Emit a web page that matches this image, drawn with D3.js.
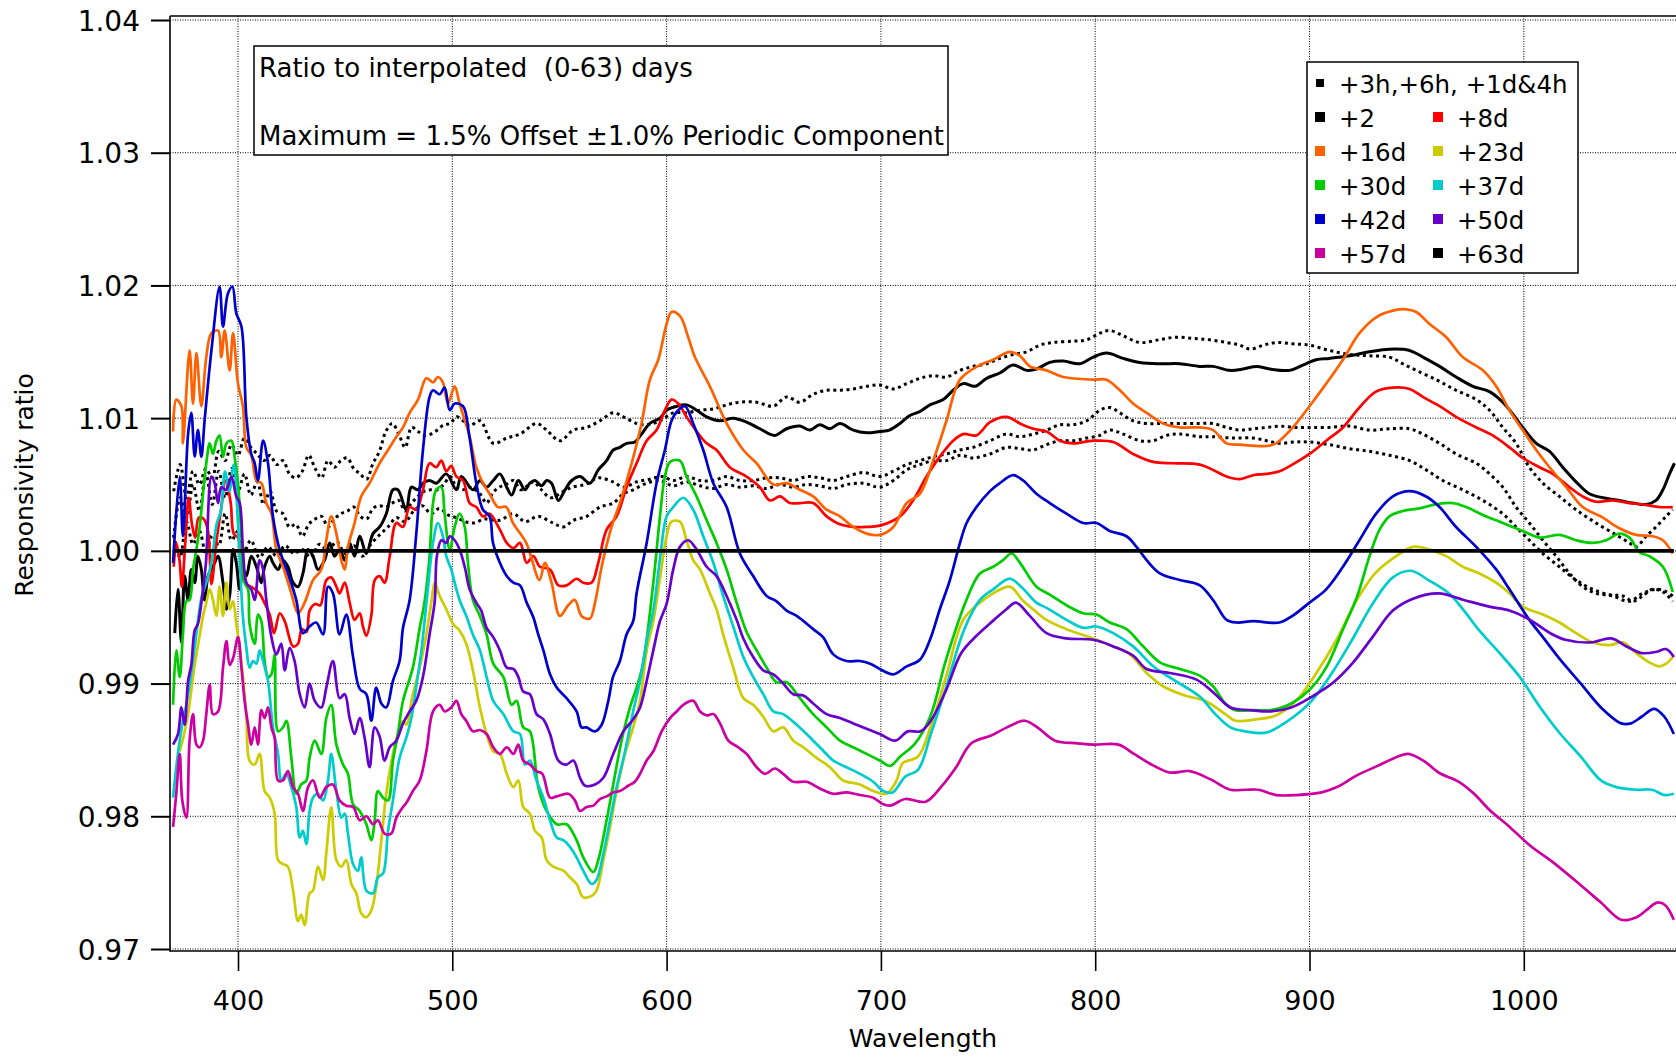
<!DOCTYPE html>
<html><head><meta charset="utf-8">
<script src="https://cdn.jsdelivr.net/npm/d3@7"></script>
<style>
html,body{margin:0;padding:0;background:#fff;}
svg text{font-family:"DejaVu Sans",sans-serif;fill:#000;}
</style></head>
<body>
<svg id="chart" width="1676" height="1058"></svg>
<script>
// ---- tick labels ----
const wavelengthTicks = [400, 500, 600, 700, 800, 900, 1000];
const ratioTicks = [0.97, 0.98, 0.99, 1.00, 1.01, 1.02, 1.03, 1.04];

// ---- series: [wavelength, ratio] ----
const d3h = [[370,1.0045],[373,1.0065],[376,1.004],[379,1.006],[382,1.005],[385,1.0062],[388,1.0055],[391,1.0075],[394,1.0068],[397,1.008],[400,1.0072],[403,1.0085],[406,1.0078],[409,1.0073],[412,1.0068],[415,1.0072],[418,1.0065],[421,1.0068],[424,1.0058],[427,1.0055],[430,1.006],[433,1.0072],[436,1.0062],[439,1.0055],[442,1.0068],[445,1.0063],[448,1.0068],[451,1.007],[454,1.0062],[457,1.0058],[460,1.0054],[463,1.0066],[466,1.0075],[469,1.009],[472,1.0096],[475,1.0088],[478,1.0078],[481,1.0093],[484,1.009],[487,1.0087],[490,1.0088],[493,1.0091],[496,1.0095],[499,1.0096],[502,1.0101],[505,1.0098],[508,1.0094],[512.9,1.0098],[519.1,1.0081],[525.4,1.0085],[531.6,1.0088],[539.3,1.0096],[544,1.0091],[550.2,1.0083],[556.5,1.0091],[562.7,1.0093],[568.9,1.0098],[575.1,1.0104],[579.8,1.0101],[586,1.0096],[590.7,1.0095],[596.9,1.0098],[603.1,1.0104],[609.3,1.0104],[615.6,1.0106],[621.8,1.0107],[628,1.011],[634.2,1.0112],[642,1.0112],[649.8,1.0109],[656,1.0116],[662.2,1.0112],[668.4,1.0118],[674.7,1.0121],[680.9,1.0121],[687.1,1.0122],[693.3,1.0124],[699.5,1.0125],[705.8,1.0122],[712,1.0126],[718.2,1.013],[724.4,1.0132],[730.6,1.0131],[736.9,1.0136],[743,1.0139],[749.3,1.0141],[755.5,1.0145],[761.7,1.0148],[768,1.015],[774.2,1.0155],[780.4,1.0157],[789.7,1.0158],[796,1.0159],[802.2,1.0164],[806.8,1.0166],[813.1,1.0162],[820.8,1.0157],[829.6,1.0159],[837.8,1.0161],[845.8,1.016],[853.5,1.0159],[861.3,1.0157],[867.5,1.0155],[872.3,1.0152],[878.5,1.0155],[884.7,1.0157],[892,1.0156],[900,1.0155],[909.3,1.0151],[918.7,1.0148],[928,1.0147],[937.3,1.0146],[943.5,1.0141],[949.8,1.0136],[959.1,1.0129],[968.4,1.0121],[977.8,1.0114],[984,1.0106],[990.2,1.0093],[996.4,1.0081],[1002.6,1.0063],[1008.9,1.0051],[1016.6,1.0041],[1024.4,1.0031],[1033.7,1.0021],[1043.1,1.0012],[1049.3,1.0006],[1052.4,1.0003],[1057.1,1.0011],[1061.7,1.0018],[1066.4,1.0026],[1069.5,1.0031]];

const d6h = [[370,1.001],[373,1.004],[376,1.0025],[379,1.005],[382,1.003],[385,1.0058],[388,1.0035],[391,1.006],[394,1.004],[397,1.0062],[400,1.0045],[403,1.0058],[406,1.0042],[409,1.0052],[412,1.0035],[415,1.0045],[418,1.003],[421,1.0028],[424,1.0018],[427,1.002],[430,1.0011],[433,1.002],[436,1.0024],[439,1.0026],[442,1.0018],[445,1.0024],[448,1.0028],[451,1.003],[454,1.0033],[457,1.0026],[460,1.0024],[463,1.0032],[466,1.0034],[469,1.0033],[472,1.0036],[475,1.0038],[478,1.003],[481,1.0036],[484,1.0041],[487,1.0045],[490,1.0046],[493,1.0046],[496,1.005],[499,1.0056],[502,1.0048],[505,1.0046],[508,1.0048],[512.9,1.0043],[516,1.0036],[519,1.0044],[522,1.0048],[525,1.005],[528.5,1.0053],[532,1.0046],[535,1.0049],[538,1.0052],[541,1.0047],[546,1.004],[551,1.0044],[556,1.0048],[562,1.005],[568,1.0055],[575,1.0052],[580,1.0048],[586,1.0052],[592,1.0054],[598,1.0056],[603.1,1.0053],[609.3,1.0056],[615.6,1.0053],[621.8,1.0053],[628,1.0056],[634.2,1.0053],[640.4,1.0053],[646.7,1.0055],[652.9,1.0055],[659.1,1.0053],[665.3,1.0056],[671.5,1.0055],[677.8,1.0053],[684,1.0056],[691.8,1.0059],[699.5,1.0056],[705.8,1.006],[712,1.0065],[718.2,1.0068],[724.4,1.0071],[730.6,1.0073],[736.9,1.0076],[743,1.0078],[750.9,1.0083],[758.6,1.0088],[764.9,1.0086],[771.1,1.0088],[777.3,1.0091],[783.5,1.0095],[789.7,1.0095],[796,1.0098],[802.2,1.0106],[806.8,1.0108],[811.5,1.0104],[817.7,1.0098],[824,1.0096],[831.7,1.0096],[839.5,1.0096],[848,1.0096],[855,1.0096],[861.3,1.0093],[867.5,1.0091],[873.7,1.0092],[880,1.0093],[886,1.0094],[893,1.0093],[900,1.0093],[909,1.0093],[918.7,1.0094],[928,1.0091],[937.3,1.0092],[946.7,1.0092],[952.9,1.0088],[960.7,1.0081],[968.4,1.0073],[977.8,1.0066],[984,1.0058],[990.2,1.0048],[996.4,1.0033],[1002.6,1.0021],[1008.9,1.0008],[1015.1,0.9996],[1021.3,0.9983],[1027.5,0.9973],[1033.7,0.9968],[1041.5,0.9966],[1049.3,0.9962],[1055.5,0.9968],[1061.7,0.9971],[1065.5,0.997],[1069.5,0.9966]];

const d1d4h = [[370,1.0012],[373,0.9995],[376,1.0022],[379,1.0005],[382,1.0015],[385,0.9998],[388,1.0012],[391,1.0004],[394,1.0028],[397,1.0008],[400,1.0015],[403,1.0],[406,1.0008],[410,0.9995],[414,1.0003],[418,0.9996],[422,1.0004],[426,0.9998],[430,1.0001],[434,0.9995],[438,1.0005],[442,1.0],[446,1.0007],[450,0.9998],[454,1.0004],[458,0.9996],[462,1.0005],[466,1.0012],[470,1.0018],[474,1.0025],[478,1.0022],[482,1.003],[486,1.0034],[490,1.0028],[494,1.0032],[498,1.0027],[502,1.0025],[506,1.0022],[510,1.0021],[515,1.0024],[522,1.0023],[528.5,1.0028],[534,1.0022],[540,1.0026],[547,1.0021],[551.8,1.0018],[556.5,1.0023],[562.7,1.0026],[568.9,1.0033],[575.1,1.0036],[579.8,1.0043],[584.4,1.0046],[590.7,1.0051],[596.9,1.0053],[603.1,1.0049],[609.3,1.0052],[615.6,1.0049],[621.8,1.0047],[628,1.005],[634.2,1.0048],[640.4,1.0049],[646.7,1.0047],[652.9,1.005],[659.1,1.0048],[665.3,1.005],[671.5,1.0049],[677.8,1.0047],[684,1.005],[691.8,1.0051],[699.5,1.0048],[705.8,1.0053],[712,1.0061],[718.2,1.0065],[724.4,1.0068],[730.6,1.0068],[736.9,1.0072],[743,1.007],[750.9,1.0073],[758.6,1.0078],[764.9,1.0077],[771.1,1.0076],[777.3,1.008],[783.5,1.0083],[789.7,1.0083],[796,1.0085],[802.2,1.0087],[806.8,1.0091],[813.1,1.0088],[820.8,1.0083],[827.1,1.0083],[833.3,1.0087],[839.5,1.0088],[848.8,1.0086],[855,1.0086],[864.4,1.0085],[873.7,1.0085],[880,1.0083],[886,1.0081],[893,1.0082],[900,1.0082],[909.3,1.008],[918.7,1.0077],[928,1.0075],[937.3,1.0072],[946.7,1.0068],[954.4,1.0061],[962.2,1.0053],[971.5,1.0046],[980.9,1.0038],[990.2,1.0028],[996.4,1.0018],[1002.6,1.0008],[1008.9,0.9998],[1016.6,0.9988],[1024.4,0.9978],[1032.2,0.9971],[1040,0.9967],[1046.2,0.9966],[1050.9,0.9962],[1055.5,0.9966],[1060,0.9971],[1065,0.9969],[1069.5,0.9962]];

const d2 = [[370.5,0.9938],[372,0.9971],[373.6,0.9931],[375.1,0.9981],[376.7,0.9963],[378.2,0.9986],[379.8,0.9976],[381.3,0.9996],[382.9,0.9986],[384.4,0.9963],[386,0.9981],[387.6,0.9986],[389.1,0.9991],[390.7,0.9996],[393,0.9976],[394.6,0.9956],[396.1,0.9966],[397.7,1.0001],[399.2,0.9991],[400.8,0.9971],[402.3,0.9986],[403.9,0.9981],[406.2,0.9996],[408.6,0.9988],[410.9,0.9976],[412.4,0.9988],[414.8,0.9996],[416.3,0.9991],[418.7,0.9986],[421,0.9993],[423.3,0.9988],[425.7,0.9976],[428,0.9973],[430.3,0.9983],[432.7,1.0001],[435,0.9996],[437.3,0.9986],[440.4,0.9993],[442.8,1.0006],[445.1,0.9996],[447.4,1.0001],[449.8,0.9993],[452.1,1.0006],[454.4,0.9996],[456.8,1.0011],[459.9,0.9998],[463,1.0013],[466.1,1.0018],[469.2,1.0028],[472.3,1.0046],[474.6,1.0046],[478.5,1.0031],[480.9,1.0048],[484,1.0046],[486.3,1.0051],[489.4,1.0053],[492.5,1.0051],[497.2,1.0058],[501.9,1.0046],[504.2,1.0056],[509.6,1.0046],[512.9,1.0053],[516,1.0048],[519.1,1.0053],[522.2,1.0058],[525.4,1.0048],[527.7,1.0042],[530.8,1.0053],[533.9,1.0046],[536.2,1.0051],[538.6,1.0053],[541.7,1.0049],[544,1.0053],[546.3,1.0051],[549.5,1.0038],[552.6,1.0046],[555.7,1.0053],[559.6,1.0056],[564.2,1.0051],[568.1,1.0061],[572,1.0068],[575.1,1.0076],[578.2,1.0078],[581.3,1.0081],[585.2,1.0082],[588.3,1.0088],[592.2,1.0096],[596.9,1.01],[600,1.0106],[604.7,1.0109],[609.3,1.011],[614,1.0106],[618.7,1.0101],[624.9,1.0098],[631.1,1.01],[637.3,1.0097],[643.5,1.0092],[650.5,1.0087],[656,1.0092],[662.2,1.0094],[666.9,1.0091],[671.5,1.0095],[676.2,1.0092],[680.9,1.0096],[687.1,1.0091],[693.3,1.0089],[699.5,1.009],[704,1.0091],[708.9,1.0096],[713.5,1.0102],[718.2,1.0105],[722.9,1.011],[729.1,1.0114],[733.7,1.0121],[738.4,1.0126],[743.9,1.0124],[749.3,1.013],[755.5,1.0134],[761.7,1.014],[768,1.0136],[772.6,1.0137],[778.8,1.0142],[785.1,1.0143],[792.8,1.0141],[799.1,1.0146],[805.3,1.0149],[813.1,1.0145],[820.8,1.0142],[830.2,1.0141],[839.5,1.0141],[848.8,1.0139],[855,1.0139],[862.8,1.0136],[869,1.0137],[875.3,1.0139],[881.5,1.0137],[890.7,1.0136],[896.9,1.014],[903.1,1.0144],[909.3,1.0145],[918.7,1.0147],[928,1.015],[937.3,1.0152],[946.7,1.0151],[952.9,1.0146],[960.7,1.0139],[968.4,1.0131],[976.2,1.0124],[984,1.012],[990.2,1.0112],[994.9,1.0103],[999.5,1.0093],[1005.8,1.0081],[1012,1.0075],[1018.2,1.0063],[1024.4,1.0052],[1030.6,1.0043],[1036.9,1.004],[1044.6,1.0038],[1050.9,1.0036],[1057.1,1.0035],[1061.7,1.0038],[1064.9,1.0046],[1068,1.0058],[1070.3,1.0066]];

const d8 = [[370,0.9988],[371.2,1.0006],[372.7,0.9993],[373.8,0.9973],[375.4,1.0006],[377,1.004],[378.5,1.002],[380,1.001],[381.7,1.0025],[384,1.0024],[386,1.0015],[387.6,0.9975],[390,1.0008],[392,1.003],[394.3,1.0053],[396.6,1.0036],[398,1.0013],[400,1.001],[402,0.9983],[404,0.9975],[407,0.9972],[410,0.9968],[412,0.9962],[414.8,0.9952],[416.8,0.9938],[419.5,0.9953],[421.8,0.9947],[425.7,0.9928],[428,0.993],[429.8,0.9941],[432,0.9939],[433.4,0.9955],[436,0.996],[438.4,0.9959],[441.2,0.9978],[443.5,0.998],[445.9,0.9973],[447.4,0.9968],[449.8,0.9976],[452.1,0.9961],[454.4,0.9948],[456.8,0.9953],[458.3,0.9943],[459.9,0.9936],[462.2,0.9951],[463.8,0.9978],[466.1,0.9981],[468.4,0.9976],[470.8,0.9996],[473.9,1.0021],[477,1.0018],[480.1,1.0033],[483.2,1.0031],[486.3,1.0046],[489.4,1.0066],[492.5,1.0063],[494.9,1.0068],[497.2,1.006],[499.5,1.0064],[501.9,1.0056],[505,1.0053],[508.1,1.0036],[511.2,1.0033],[514.3,1.0026],[517.4,1.0028],[522.2,1.0016],[525.4,1.0006],[528.5,1.0002],[531.6,1.0006],[534.7,0.9991],[537.8,0.9996],[540.9,0.9988],[545.6,0.9986],[549.5,0.9974],[553.4,0.9974],[558,0.9979],[561.1,0.9976],[565,0.9976],[568.1,0.9991],[572,1.0016],[576.7,1.0026],[581.3,1.0048],[586,1.0066],[590.7,1.0083],[595.3,1.0091],[599.2,1.0106],[602.3,1.0114],[605.4,1.0111],[609.3,1.0101],[614,1.009],[618.7,1.0081],[623.3,1.0076],[629.5,1.0063],[637.3,1.0056],[643.5,1.0048],[648.2,1.0038],[652.9,1.0041],[657.5,1.0036],[662.2,1.0036],[668.4,1.0036],[674.7,1.0026],[680.9,1.002],[687.1,1.0018],[693.3,1.0018],[699.5,1.0019],[708.9,1.0026],[715,1.0038],[721.3,1.0056],[727.5,1.0071],[733.7,1.0083],[738.4,1.0088],[744.6,1.0087],[750.9,1.0097],[758.6,1.0101],[764.9,1.0096],[771.1,1.0092],[777.3,1.009],[783.5,1.0083],[789.7,1.0081],[799.1,1.0083],[808.4,1.0082],[817.7,1.0073],[827.1,1.0067],[836.4,1.0066],[848.8,1.0065],[855,1.0061],[861.3,1.0056],[867.5,1.0054],[873.7,1.0057],[880,1.0058],[886,1.006],[892,1.0065],[900,1.0073],[907.8,1.0083],[915.6,1.0093],[923.3,1.0108],[931,1.012],[939,1.0123],[946.7,1.0122],[952.9,1.0116],[960.7,1.0109],[968.4,1.0101],[977.8,1.0093],[985.5,1.0087],[993.3,1.0078],[999.5,1.007],[1007.3,1.0063],[1013.5,1.0058],[1021.3,1.0048],[1027.5,1.0041],[1033.7,1.0037],[1041.5,1.0038],[1049.3,1.0036],[1055.5,1.0035],[1063.3,1.0033],[1069.5,1.0033]];

const d16 = [[369.7,1.0090],[371.2,1.0114],[373.6,1.0109],[374.3,1.0081],[377.4,1.0151],[379.0,1.0111],[380.6,1.0149],[382.9,1.0109],[385.2,1.0146],[387.6,1.0164],[390.7,1.0166],[392.2,1.0146],[393.8,1.0166],[396.1,1.0136],[397.7,1.0164],[400,1.0126],[402.3,1.0109],[403.9,1.0078],[406.2,1.0072],[408.6,1.0053],[410.9,1.0051],[413.2,1.0036],[415.6,1.0028],[417.9,1.0001],[421,0.9988],[424.9,0.9968],[428,0.9953],[431.1,0.9961],[435,0.9978],[438.9,0.9986],[441.2,1.0008],[443.5,1.0026],[445.9,1.0013],[448.2,0.9993],[449.8,0.9986],[451.3,1.0003],[454.4,1.0021],[457.5,1.0041],[461.4,1.0051],[466.1,1.0066],[470,1.0076],[473.9,1.0086],[477,1.0093],[480.1,1.0104],[484,1.0114],[487.9,1.0130],[491,1.0127],[493.3,1.0131],[495.6,1.0127],[498,1.0111],[501.1,1.0124],[503.4,1.0111],[508.1,1.0086],[511.2,1.0063],[514.3,1.0051],[517.4,1.0043],[521.3,1.0033],[525.2,1.0033],[528.3,1.0021],[534.5,1.0006],[540.7,0.9978],[543.2,0.9991],[546.3,0.9976],[550.2,0.9951],[554.1,0.9959],[557.2,0.9963],[560.3,0.9951],[564.2,0.9949],[566.6,0.9961],[569.7,0.9988],[574.3,1.0018],[578.2,1.0036],[583.7,1.0066],[588.3,1.0096],[592.2,1.0129],[596.1,1.0144],[600,1.0171],[602.3,1.0180],[606.2,1.0177],[610.1,1.0161],[613.2,1.0146],[620.2,1.0124],[628,1.0096],[635.8,1.0076],[642,1.0066],[649.8,1.0050],[656,1.0051],[662.2,1.0046],[668.4,1.0041],[674.7,1.0031],[680.9,1.0026],[687.1,1.0018],[693.3,1.0013],[699.5,1.0012],[705.8,1.0018],[712,1.0036],[718.2,1.0043],[724.4,1.0068],[730.6,1.0098],[736.9,1.0129],[746.2,1.0140],[752.4,1.0144],[760.2,1.0150],[764.9,1.0147],[769.5,1.0139],[777.3,1.0136],[785.1,1.0131],[799.1,1.0129],[805.3,1.0129],[811.5,1.0121],[817.7,1.0111],[824,1.0104],[831.7,1.0096],[839.5,1.0093],[848.8,1.0093],[855,1.0091],[861.3,1.0081],[867.5,1.0080],[880,1.0079],[884.4,1.0081],[892.2,1.0093],[900,1.0109],[907.8,1.0126],[915.6,1.0144],[923.3,1.0164],[931.1,1.0176],[938.9,1.0181],[945.1,1.0182],[949.8,1.0180],[956,1.0171],[963.8,1.0161],[971.5,1.0146],[980.9,1.0136],[987.1,1.0124],[993.3,1.0106],[999.5,1.0091],[1005.8,1.0076],[1012,1.0063],[1019.8,1.0048],[1027.5,1.0033],[1036.9,1.0025],[1044.6,1.0017],[1052.4,1.0012],[1060.2,1.0011],[1064.9,1.0008],[1069.5,0.9998]];

const d23 = [[372.8,0.9849],[374.6,0.986],[376.7,0.9877],[379,0.9905],[380.6,0.9922],[382,0.9935],[383.7,0.9951],[385.2,0.9961],[386.8,0.9971],[388.3,0.9963],[389.9,0.9951],[391.4,0.9973],[393,0.9951],[394.6,0.9976],[396.1,0.9956],[397.7,0.9962],[399.2,0.9945],[400.8,0.9927],[402.3,0.9905],[403.9,0.9875],[405.4,0.9842],[407.8,0.9839],[410.1,0.9847],[412.4,0.9819],[414.8,0.9814],[417.1,0.9802],[418.7,0.9767],[421,0.9764],[423.3,0.9762],[425.7,0.9744],[428,0.9721],[429.5,0.9726],[431.1,0.9718],[433.4,0.9742],[435,0.9744],[437.3,0.9762],[439.7,0.9752],[441.2,0.9772],[443.5,0.9807],[445.9,0.9767],[448.2,0.9762],[450.5,0.9767],[452.9,0.9749],[455.2,0.9742],[457.5,0.9727],[459.9,0.9724],[462.2,0.9729],[464.5,0.9747],[466.9,0.9782],[469.2,0.9817],[472.3,0.9847],[474.6,0.9862],[477,0.9872],[478.5,0.9869],[481.6,0.9892],[484.8,0.9912],[487.9,0.9937],[490.3,0.9962],[491.8,0.9976],[494.1,0.9966],[497.2,0.9956],[500.3,0.9945],[503.4,0.994],[506.5,0.993],[509.6,0.991],[512.9,0.9882],[516,0.9862],[519.1,0.9849],[522.2,0.9847],[525.4,0.9832],[528.5,0.9822],[530.8,0.9827],[533.1,0.9807],[536.2,0.9802],[538.6,0.9789],[541.7,0.9784],[544,0.9767],[547.1,0.9762],[551.8,0.9759],[554.9,0.9754],[558,0.9749],[561.1,0.9739],[565,0.974],[567.3,0.9744],[570.5,0.9767],[573.6,0.9792],[576.7,0.9819],[580.6,0.9847],[584.4,0.9867],[587.6,0.9887],[590.7,0.9925],[593.8,0.9947],[597,0.998],[600,1.0011],[602.3,1.0022],[606.2,1.0022],[609.3,1.0008],[612.4,0.9993],[615.6,0.9986],[620.2,0.9968],[623.3,0.9956],[626.4,0.9937],[631.1,0.9912],[635.8,0.9889],[640.4,0.9884],[645.1,0.9875],[649.8,0.9864],[654.4,0.9867],[659.1,0.9857],[663.8,0.9852],[670,0.9844],[676.2,0.9837],[682.4,0.9827],[690.2,0.9824],[696.4,0.9819],[702.6,0.9817],[707.3,0.9827],[710.2,0.984],[717.3,0.9845],[723.3,0.9868],[730.4,0.9905],[738.4,0.9948],[746.2,0.9961],[752.4,0.9968],[760.2,0.9973],[766,0.9963],[771,0.9956],[777.3,0.9948],[786.6,0.9941],[799.1,0.9934],[808.4,0.9928],[816.2,0.9922],[824,0.9908],[831.7,0.9898],[841.8,0.9891],[851.2,0.9887],[860.7,0.9877],[865.4,0.9872],[874.9,0.9873],[884.3,0.9876],[893.7,0.9887],[903.2,0.9908],[912.6,0.9933],[922.1,0.9963],[930.6,0.9983],[940.4,0.9996],[948.2,1.0003],[956,1.0001],[963.8,0.9996],[971.5,0.9988],[979.3,0.9983],[987.1,0.9976],[993.3,0.9968],[999.5,0.9958],[1008.9,0.9952],[1016.6,0.9946],[1024.4,0.9938],[1032.2,0.9931],[1040,0.9929],[1046.2,0.9931],[1052.4,0.9923],[1058.6,0.9916],[1063.3,0.9913],[1066.5,0.9915],[1069.5,0.992]];

const d30 = [[369.7,0.9884],[371.2,0.9925],[372.8,0.9905],[374.3,0.9937],[375.9,0.9962],[377.4,0.9963],[379,0.9986],[380.6,1.0001],[382.1,1.0018],[385.2,1.0066],[386.8,1.0081],[388.3,1.0073],[389.9,1.0083],[391.4,1.0087],[393,1.0071],[394.6,1.0081],[396.9,1.0083],[398.4,1.0071],[400,1.0051],[401.6,1.0011],[403.1,0.9976],[404.7,0.9971],[405.4,0.9945],[407.8,0.993],[409.3,0.9952],[410.9,0.9947],[412.4,0.9917],[414,0.9905],[415.6,0.9907],[417.1,0.9922],[418.7,0.9864],[421,0.9867],[422.6,0.9872],[424.9,0.9844],[427.2,0.9817],[429.5,0.9824],[431.9,0.9827],[433.4,0.9844],[435.8,0.9857],[438.9,0.9847],[441.2,0.9874],[443.5,0.9884],[445.9,0.9854],[449,0.9839],[451.3,0.9832],[453.7,0.9809],[456.8,0.9804],[459.9,0.9794],[462.2,0.9782],[463.8,0.9797],[465.3,0.9819],[467.7,0.9814],[470,0.9812],[472.3,0.9842],[474.6,0.9862],[477,0.9887],[481.6,0.9912],[484.8,0.9942],[487.1,0.9962],[489.4,0.9996],[491,1.0036],[492.5,1.0046],[494.9,1.0048],[496.4,1.0028],[498.8,1.0001],[501.1,1.0018],[503.4,1.0028],[505.8,1.0018],[507.3,0.9991],[509.6,0.9963],[512.6,0.9952],[516,0.9937],[519.1,0.9915],[523.8,0.9905],[527.7,0.9884],[530,0.9887],[533.1,0.9867],[536.2,0.9864],[540.1,0.9822],[544,0.9804],[548.7,0.9794],[553.3,0.9794],[558,0.9782],[561.1,0.9769],[565.8,0.9758],[568.1,0.9767],[572,0.9797],[575.1,0.9824],[579,0.9857],[582.9,0.9882],[586,0.9897],[589,0.9915],[593.8,0.9976],[596.9,1.0026],[599.2,1.0056],[601.6,1.0067],[606.2,1.0068],[609.3,1.0056],[614,1.0041],[618.7,1.0023],[623.3,1.0006],[628,0.9986],[632.7,0.9961],[637.3,0.9939],[642,0.9925],[646.7,0.9912],[651.3,0.9901],[656,0.9901],[662.2,0.9889],[668.4,0.9877],[674.7,0.9867],[680.9,0.9857],[687.1,0.9852],[693.3,0.9847],[699.5,0.9842],[704.3,0.9838],[709,0.9845],[716,0.9855],[723,0.9875],[730.4,0.9918],[739.9,0.9963],[746.2,0.9983],[752.4,0.9988],[757,0.9993],[761,0.9998],[764.9,0.9991],[772.6,0.9973],[778.8,0.9967],[786.6,0.9959],[794.4,0.9953],[800.6,0.9952],[806.8,0.9946],[814.6,0.9941],[822.4,0.9928],[830.2,0.9916],[839.5,0.9911],[848.8,0.9906],[855,0.9898],[860.7,0.9885],[865.4,0.988],[874.9,0.988],[882,0.988],[891.5,0.9885],[901,0.9897],[908.1,0.9913],[915.4,0.994],[922.3,0.9966],[928,0.9996],[932.7,1.0016],[937.3,1.0026],[943.5,1.003],[951.3,1.0032],[959,1.0035],[966.9,1.0036],[973.1,1.0033],[980.9,1.0027],[990.2,1.0021],[999.5,1.0015],[1007.3,1.001],[1016.6,1.0012],[1024.4,1.0008],[1032.2,1.0006],[1038.4,1.0008],[1044.6,1.0013],[1049.3,1.001],[1054,0.9999],[1058.6,0.9996],[1064.9,0.9988],[1069.5,0.9969]];

const d37 = [[369.7,0.9814],[371.2,0.9837],[372.8,0.9857],[374.3,0.9872],[375.9,0.9884],[377.4,0.9899],[380,0.993],[383,0.9965],[386,0.998],[388,0.9995],[390,1.002],[392,1.003],[394,1.006],[396,1.0045],[398,1.0065],[400,1.002],[402.3,0.995],[403.9,0.9927],[405.4,0.9912],[407,0.9917],[408.6,0.9915],[410.1,0.9925],[411.7,0.9917],[414,0.9902],[416.3,0.9867],[418.7,0.9847],[420.2,0.9827],[422.5,0.9832],[424.9,0.9822],[427.2,0.9807],[428.8,0.9784],[430.3,0.9789],[431.9,0.9779],[433.4,0.9804],[435,0.9814],[437.3,0.9817],[439.7,0.9812],[442,0.9827],[443.5,0.9847],[445.9,0.9819],[448.2,0.9799],[449.8,0.9802],[451.3,0.9787],[453.7,0.9764],[456,0.9759],[457.5,0.9769],[459.9,0.9744],[463,0.9742],[465.3,0.9754],[467.7,0.9757],[470,0.9789],[472.3,0.9812],[475.4,0.9844],[478.5,0.9859],[480.9,0.9874],[483.3,0.9899],[485.6,0.9925],[488,0.9962],[491,1.0006],[493.3,1.0021],[495.6,1.0011],[497.2,0.9996],[499.5,0.9986],[501.1,0.9976],[503.4,0.9963],[506.5,0.9951],[509.6,0.9937],[512.9,0.9925],[516,0.9905],[519.1,0.9887],[523.8,0.9877],[528.5,0.9864],[531.6,0.9862],[533.9,0.9839],[536.2,0.9842],[539.3,0.9827],[542.5,0.9814],[545.6,0.9797],[548.7,0.9784],[551.8,0.9782],[554.9,0.9777],[558,0.9769],[561.1,0.9759],[565,0.9749],[567.3,0.9752],[570.5,0.9772],[573.6,0.9797],[576.7,0.9822],[580.6,0.9849],[584.4,0.9879],[587.6,0.9902],[590.7,0.9932],[593.8,0.9955],[597,0.9995],[600,1.0026],[603.1,1.0033],[607.8,1.004],[612.4,1.0031],[617.1,1.0011],[621.8,0.9991],[626.4,0.9966],[631.1,0.9943],[635.8,0.992],[640.4,0.9905],[645.1,0.9892],[649.8,0.9879],[654.4,0.9877],[660.7,0.9869],[665.3,0.9862],[671.5,0.9852],[677.8,0.9842],[684,0.9837],[690.2,0.9832],[696.4,0.9826],[701.1,0.9819],[705.5,0.9818],[711.4,0.983],[717.3,0.9835],[723.3,0.9862],[730.4,0.9897],[738.7,0.994],[746.2,0.9963],[752.4,0.9971],[760.2,0.9979],[766,0.9972],[772.6,0.9961],[777.3,0.9957],[786.6,0.9948],[794.4,0.9942],[800.6,0.9943],[808.4,0.9938],[817.7,0.9928],[827.1,0.9913],[836.4,0.9903],[848.9,0.989],[856,0.9877],[863.1,0.9867],[870.2,0.9864],[879.7,0.9863],[889.1,0.9871],[901,0.9887],[910.5,0.9908],[919.9,0.9933],[929.4,0.996],[938.9,0.998],[947.2,0.9985],[955.5,0.9978],[965,0.9968],[972.1,0.9955],[979.2,0.994],[988.7,0.9923],[998.1,0.9905],[1007.7,0.9882],[1017.1,0.9862],[1026.6,0.9845],[1036,0.9827],[1043.2,0.9822],[1052.6,0.982],[1059.8,0.982],[1065.7,0.9816],[1070,0.9817]];

const d42 = [[369.7,0.9991],[372.8,1.0056],[374.3,1.0011],[376.7,1.0088],[378.2,1.0104],[379.8,1.0071],[381.3,1.0091],[382.9,1.0071],[384.4,1.0098],[387.6,1.0151],[391.4,1.0199],[393,1.0169],[395.3,1.0194],[397.4,1.0199],[399.2,1.0179],[401.6,1.0169],[403.9,1.0101],[406.2,1.0073],[407.8,1.0066],[409.3,1.0053],[411.7,1.0083],[414,1.0066],[416.3,1.0026],[419.4,1.0001],[423.3,0.9983],[427.2,0.9963],[430.3,0.9938],[433.4,0.9943],[436.5,0.9946],[439.7,0.9937],[442,0.9973],[444.3,0.9968],[447.4,0.9937],[450.5,0.9952],[453.7,0.992],[456.8,0.9896],[459.9,0.9892],[462.2,0.9872],[464.5,0.9897],[466.9,0.9885],[469.2,0.9882],[472.3,0.9902],[475.4,0.9917],[477,0.9942],[480.1,0.9963],[483.2,1.0013],[486.3,1.0076],[489.4,1.0116],[491,1.0121],[494.1,1.0118],[496.4,1.0123],[498.8,1.0106],[501.1,1.0111],[505,1.0109],[508,1.0086],[511.2,1.0051],[514.3,1.0031],[517.4,1.0026],[519,1.0006],[522.2,0.9991],[525.4,0.9981],[528.5,0.9976],[531.6,0.9974],[534.7,0.9961],[537.8,0.995],[540.1,0.9937],[542.5,0.9925],[545.6,0.9907],[548.7,0.9897],[553.3,0.9889],[558,0.9879],[560.3,0.9867],[562.6,0.9867],[566.6,0.9864],[569.7,0.9869],[572.8,0.9887],[575,0.9905],[578.2,0.9917],[581.3,0.9937],[584.4,0.9947],[586,0.9968],[590.7,1.0006],[595.3,1.0051],[599.2,1.0076],[602.3,1.0098],[605.4,1.0106],[608.6,1.0109],[612.4,1.0096],[617.1,1.0076],[621.8,1.0051],[628,1.0033],[634.2,0.9998],[640.4,0.9981],[646.7,0.9966],[651.3,0.9962],[656,0.9955],[660.7,0.9951],[668.4,0.9941],[673,0.9935],[677.8,0.9922],[684,0.9917],[690.2,0.9917],[695,0.9915],[699.5,0.9911],[705.8,0.9907],[712,0.9913],[718.2,0.9918],[722.9,0.9933],[727.5,0.9956],[732.2,0.9978],[736.9,1.0006],[740,1.0021],[744.6,1.0033],[750.9,1.0045],[755.5,1.0051],[761.7,1.0057],[766.4,1.0053],[772.6,1.0043],[778.8,1.0036],[786.6,1.0028],[794.4,1.0021],[800.6,1.0021],[806.8,1.0015],[814.6,1.0011],[819.3,1.0003],[824,0.9993],[830.2,0.9983],[839.5,0.9978],[848.8,0.9974],[855,0.9963],[861.3,0.9948],[866,0.9946],[873.7,0.9947],[886,0.9946],[892,0.9951],[900,0.9961],[907.8,0.9971],[915.6,0.9988],[923.3,1.0008],[931.1,1.0028],[938.9,1.0041],[946.7,1.0045],[954.4,1.0041],[960.7,1.0033],[968.4,1.0018],[977.8,1.0003],[987.1,0.9986],[993.3,0.9971],[1002.6,0.9948],[1008.9,0.9935],[1017,0.9918],[1026.6,0.99],[1036,0.9882],[1045.5,0.987],[1050,0.987],[1055,0.9875],[1060.9,0.9881],[1065.6,0.9875],[1070,0.9862]];

const d50 = [[369.7,0.9854],[372,0.9862],[373.6,0.9882],[375.1,0.9869],[376.7,0.9902],[378.2,0.9914],[379.8,0.994],[381.3,0.9945],[383,0.9962],[385,0.999],[387.6,1.0056],[389.1,1.0051],[390.7,1.0036],[392.2,1.0048],[394.5,1.0046],[396.9,1.0056],[399.2,1.0041],[400.8,1.0036],[402.3,1.0001],[403.9,0.9976],[406.2,0.9971],[407.8,0.9963],[410.1,0.9993],[411.7,0.9986],[413.2,0.9963],[415.6,0.9935],[417.9,0.9922],[420.2,0.993],[421.8,0.991],[424.1,0.9927],[426.4,0.9917],[428.8,0.9892],[431.1,0.9882],[433.4,0.99],[435.8,0.9887],[438.9,0.9882],[441.2,0.9897],[444.3,0.9917],[447.4,0.9889],[449.8,0.9892],[452.1,0.9874],[454.4,0.9862],[456.8,0.9874],[459.1,0.9859],[461.4,0.9837],[463.8,0.9867],[466.1,0.986],[468.4,0.9842],[470.8,0.9852],[473.9,0.9857],[477,0.987],[480.1,0.9879],[483.2,0.9887],[486.3,0.9905],[489.4,0.9937],[491.8,0.9962],[492.8,0.9996],[494.9,1.0008],[497.2,1.0006],[498.8,1.0011],[501.1,1.0008],[503.4,1.0001],[505.8,0.9988],[508.1,0.9971],[511.2,0.9961],[513.5,0.9955],[516,0.9942],[519.1,0.9935],[522.2,0.9925],[525.4,0.9912],[528.5,0.9911],[530.8,0.9905],[533.1,0.9894],[536.2,0.9892],[539.3,0.9877],[542.5,0.9873],[545.6,0.9862],[549.5,0.9842],[553.3,0.9839],[556.5,0.9842],[559.6,0.9829],[562,0.9823],[566.6,0.9824],[570.5,0.9829],[575.1,0.9847],[579.8,0.9864],[584.4,0.9873],[587.6,0.9882],[590.7,0.9902],[593.8,0.9925],[596.9,0.9947],[600,0.996],[603.1,0.9986],[606.2,1.0003],[610.1,1.0008],[614,1.0001],[618.7,0.9988],[623.3,0.9981],[628,0.9966],[632.7,0.9948],[635.8,0.9934],[640.4,0.992],[645.1,0.991],[649.8,0.9907],[654.4,0.99],[659.1,0.9892],[663.8,0.9891],[668.4,0.9885],[674.7,0.9877],[680.9,0.9874],[687.1,0.987],[693.3,0.9866],[699.5,0.9862],[706.7,0.9857],[712.6,0.9864],[718.5,0.9864],[723.3,0.9872],[730.4,0.9895],[737.5,0.9923],[744.6,0.9936],[752.8,0.9948],[758.6,0.9956],[763,0.9961],[769.5,0.9951],[777.3,0.9938],[786.6,0.9934],[799.1,0.9933],[808.4,0.9928],[817.7,0.9921],[824,0.9911],[834.8,0.9908],[847.3,0.9903],[856,0.9892],[863.1,0.9882],[872.6,0.988],[882,0.9879],[891.5,0.9882],[901,0.989],[910.5,0.99],[919.9,0.9915],[929.4,0.9935],[938.9,0.9955],[948.3,0.9964],[960.2,0.9968],[972,0.9963],[983.9,0.9958],[993.3,0.9955],[1002.9,0.9948],[1012.3,0.9938],[1019.4,0.9933],[1031.2,0.9931],[1040.8,0.9934],[1047.9,0.9928],[1055,0.9923],[1062.1,0.9924],[1066.4,0.9926],[1070,0.992]];

const d57 = [[369.7,0.9792],[371.2,0.9817],[372.8,0.9847],[374,0.9812],[375.9,0.9799],[377.4,0.9857],[379,0.9877],[380.6,0.9854],[382.1,0.9852],[383.7,0.9857],[385.2,0.9877],[386.8,0.9899],[388.3,0.9877],[390.7,0.9879],[393,0.9912],[394.6,0.9932],[396.1,0.9914],[397.7,0.9919],[400,0.9935],[401.6,0.9912],[403.1,0.9887],[404.7,0.9869],[406.2,0.9854],[407.8,0.9867],[409.3,0.9854],[410.9,0.988],[412.4,0.9874],[414,0.9882],[415.6,0.9867],[417.1,0.9859],[418.7,0.9827],[421,0.9827],[423.3,0.9834],[425.7,0.9822],[428,0.9817],[430.3,0.9804],[432.7,0.9822],[435,0.9827],[438.1,0.9814],[441.2,0.9822],[444.3,0.9824],[447.4,0.9812],[450.5,0.9808],[453.7,0.9807],[456.8,0.9797],[459.9,0.98],[463,0.9794],[465.3,0.9797],[468.4,0.9787],[471.5,0.9787],[473.9,0.9799],[477,0.9807],[478.5,0.981],[481.6,0.9819],[484.8,0.9827],[487.9,0.9849],[491,0.9879],[494.1,0.9884],[496.4,0.9879],[499.5,0.9882],[501.9,0.9887],[504.2,0.9877],[506.5,0.9872],[509.6,0.9864],[512.9,0.9865],[516,0.9862],[519.1,0.9852],[522.2,0.9847],[525.4,0.9852],[528.5,0.9847],[530.8,0.9854],[533.1,0.9842],[536.2,0.9839],[539.3,0.9834],[542,0.9832],[545.6,0.9814],[548.7,0.9815],[554.1,0.9817],[557.2,0.9812],[559.6,0.9804],[562.7,0.9807],[565.8,0.9808],[568.9,0.9813],[572,0.9815],[575.1,0.9818],[578.2,0.9819],[582.1,0.9823],[585.2,0.9826],[587.6,0.9832],[590.7,0.9842],[593.8,0.9849],[597.7,0.9864],[601.6,0.9874],[604.7,0.9879],[607.8,0.9884],[612.4,0.9887],[615.6,0.9879],[618.7,0.9876],[621.8,0.9877],[624.9,0.987],[628.8,0.9857],[633.4,0.9852],[637.3,0.9847],[642,0.9837],[645.9,0.9832],[650.5,0.9836],[654.4,0.9832],[659.1,0.9826],[665.3,0.9826],[671.5,0.9821],[677.8,0.9817],[684,0.9818],[690.2,0.9816],[696.4,0.9814],[701.1,0.9809],[704.3,0.9808],[711.4,0.9813],[720.9,0.9811],[728,0.9822],[735.1,0.9837],[742.2,0.9855],[751.7,0.9861],[758.8,0.9867],[767.1,0.9872],[773,0.9867],[781.3,0.9857],[791.9,0.9855],[799.1,0.9854],[810.9,0.9854],[818.1,0.9847],[825.2,0.984],[834.7,0.9833],[844.1,0.9834],[853.6,0.9828],[863.1,0.982],[870.2,0.982],[876.1,0.982],[884.4,0.9816],[893.9,0.9816],[905.7,0.9818],[912.8,0.9822],[922.3,0.9831],[931.8,0.9838],[941.3,0.9845],[946,0.9847],[953.1,0.9842],[960.2,0.9833],[969.7,0.9826],[976.8,0.9817],[983.9,0.9805],[993.4,0.9792],[1002.9,0.9778],[1014.7,0.9764],[1026.6,0.9748],[1036,0.9735],[1045.5,0.9722],[1052.6,0.9724],[1057,0.9729],[1062.2,0.9735],[1066,0.9733],[1070,0.9722]];

const d63 = [[370,1.0],[1070,1.0]];

const seriesNames = ["+3h","+6h","+1d&4h","+2","+8d","+16d","+23d","+30d","+37d","+42d","+50d","+57d","+63d"];
const seriesData = [d3h, d6h, d1d4h, d2, d8, d16, d23, d30, d37, d42, d50, d57, d63];
const seriesColors = ["#000000","#000000","#000000","#000000","#ff0000","#ff6000","#cccc00","#00cc00","#00cccc","#0000cc","#6600cc","#cc00a0","#000000"];

// legend rows
const legendRows = [
  [{label:"+3h,+6h, +1d&4h", color:"#000000", small:true}],
  [{label:"+2", color:"#000000"}, {label:"+8d", color:"#ff0000"}],
  [{label:"+16d", color:"#ff6000"}, {label:"+23d", color:"#cccc00"}],
  [{label:"+30d", color:"#00cc00"}, {label:"+37d", color:"#00cccc"}],
  [{label:"+42d", color:"#0000cc"}, {label:"+50d", color:"#6600cc"}],
  [{label:"+57d", color:"#cc00a0"}, {label:"+63d", color:"#000000"}]
];

// ---- layout ----
const W = 1676, H = 1058;
const frameLeft = 170, frameTop = 16, frameBottom = 951, frameRight = 1676;
const x = d3.scaleLinear().domain([400, 1000]).range([238, 1523.8]);
const y = d3.scaleLinear().domain([0.97, 1.04]).range([949, 20]);

const svg = d3.select("#chart");
svg.append("rect").attr("width", W).attr("height", H).attr("fill", "#fff");

// grid
const grid = svg.append("g").attr("stroke", "#000").attr("stroke-width", 1).attr("stroke-dasharray", "1,1.5");
grid.selectAll("line.v").data(wavelengthTicks).join("line")
  .attr("x1", d => x(d)).attr("x2", d => x(d)).attr("y1", frameTop).attr("y2", frameBottom);
grid.selectAll("line.h").data(ratioTicks).join("line")
  .attr("x1", frameLeft).attr("x2", frameRight).attr("y1", d => y(d)).attr("y2", d => y(d));

// lines
const line = d3.line().x(d => x(d[0])).y(d => y(d[1])).curve(d3.curveCatmullRom.alpha(0.5));
const lg = svg.append("g").attr("fill", "none").attr("stroke-linejoin", "round").attr("stroke-linecap", "butt");
seriesData.forEach((data, i) => {
  const p = lg.append("path").attr("d", line(data)).attr("stroke", seriesColors[i]);
  if (i < 3) p.attr("stroke-width", 3).attr("stroke-dasharray", "3,3.6");
  else if (i === 3) p.attr("stroke-width", 3);
  else if (i === 12) p.attr("stroke-width", 3.6);
  else p.attr("stroke-width", 2.7);
});

// frame
const fr = svg.append("g").attr("stroke", "#000").attr("stroke-width", 1.6);
fr.append("line").attr("x1", frameLeft).attr("x2", frameLeft).attr("y1", frameTop).attr("y2", frameBottom + 0.8);
fr.append("line").attr("x1", frameLeft).attr("x2", frameRight).attr("y1", frameBottom).attr("y2", frameBottom);
fr.append("line").attr("x1", frameLeft).attr("x2", frameRight).attr("y1", frameTop).attr("y2", frameTop);

// axes
const yAxis = svg.append("g").attr("transform", `translate(${frameLeft},0)`)
  .call(d3.axisLeft(y).tickValues(ratioTicks).tickFormat(d3.format(".2f")).tickSize(19).tickPadding(11));
yAxis.select(".domain").remove();
yAxis.selectAll(".tick line").attr("stroke", "#000").attr("stroke-width", 2);
yAxis.selectAll(".tick text").attr("font-size", 28).attr("font-family", "DejaVu Sans").attr("dy", "0.36em");

const xAxis = svg.append("g").attr("transform", `translate(0,${frameBottom})`)
  .call(d3.axisBottom(x).tickValues(wavelengthTicks).tickFormat(d3.format("d")).tickSize(20).tickPadding(20));
xAxis.select(".domain").remove();
xAxis.selectAll(".tick line").attr("stroke", "#000").attr("stroke-width", 1.6);
xAxis.selectAll(".tick text").attr("font-size", 27).attr("font-family", "DejaVu Sans");

// axis titles
svg.append("text").attr("x", 923).attr("y", 1047).attr("text-anchor", "middle")
  .attr("font-size", 25).text("Wavelength");
svg.append("text").attr("transform", "translate(33,485) rotate(-90)").attr("text-anchor", "middle")
  .attr("font-size", 25).text("Responsivity ratio");

// annotation box
svg.append("rect").attr("x", 254).attr("y", 46).attr("width", 694).attr("height", 109)
  .attr("fill", "#fff").attr("stroke", "#000").attr("stroke-width", 1.5);
svg.append("text").attr("x", 259).attr("y", 77).attr("font-size", 26).attr("xml:space", "preserve")
  .style("white-space", "pre").text("Ratio to interpolated  (0-63) days");
svg.append("text").attr("x", 259).attr("y", 145).attr("font-size", 26)
  .text("Maximum = 1.5% Offset \u00b11.0% Periodic Component");

// legend
const leg = svg.append("g");
leg.append("rect").attr("x", 1307).attr("y", 62).attr("width", 271).attr("height", 211)
  .attr("fill", "#fff").attr("stroke", "#000").attr("stroke-width", 1.5);
const colSwatch = [1315, 1433], colText = [1339, 1457];
legendRows.forEach((row, r) => {
  const base = 93 + r * 34;
  row.forEach((item, c) => {
    const s = item.small ? 8 : 10;
    leg.append("rect").attr("x", colSwatch[c] + (item.small ? 1 : 0)).attr("y", base - 10 - s / 2)
      .attr("width", s).attr("height", s).attr("fill", item.color);
    leg.append("text").attr("x", colText[c]).attr("y", base).attr("font-size", 24.5).text(item.label);
  });
});
</script>
</body></html>
